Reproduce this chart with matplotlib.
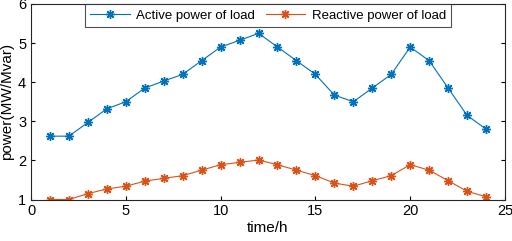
import matplotlib
matplotlib.use("Agg")
import matplotlib.pyplot as plt

plt.rcParams['font.family'] = ['Liberation Sans', 'DejaVu Sans']

hours = list(range(1, 25))
active = [2.62, 2.62, 2.97, 3.32, 3.50, 3.85, 4.03, 4.20, 4.55, 4.90, 5.07, 5.25,
          4.90, 4.55, 4.20, 3.67, 3.50, 3.85, 4.20, 4.90, 4.55, 3.85, 3.15, 2.80]
reactive = [1.00, 1.00, 1.15, 1.27, 1.34, 1.47, 1.54, 1.61, 1.75, 1.89, 1.95, 2.01,
            1.89, 1.75, 1.61, 1.42, 1.34, 1.48, 1.61, 1.89, 1.75, 1.48, 1.21, 1.07]

# matlab style asterisk marker (+ and x together)
star = (8, 2, 0)

fig = plt.figure(figsize=(5.12, 2.41), dpi=100)
ax = fig.add_axes([31/512, 1 - 199.5/241, 474/512, 195.5/241])

ax.plot(hours, active, color='#0072BD', marker=star, markersize=6.5, mew=1.0, lw=0.8,
        label='Active power of load')
ax.plot(hours, reactive, color='#D95319', marker=star, markersize=6.5, mew=1.0, lw=0.8,
        label='Reactive power of load')

ax.set_xlim(0, 25)
ax.set_ylim(1, 6)
ax.set_xticks([0, 5, 10, 15, 20, 25])
ax.set_yticks([1, 2, 3, 4, 5, 6])
ax.tick_params(direction='in', labelsize=10.5, length=3, top=False, right=True)
ax.set_xlabel('time/h', fontsize=11, labelpad=2)
ax.set_ylabel('power(MW/Mvar)', fontsize=11, labelpad=3)
for s in ax.spines.values():
    s.set_color('#262626')
    s.set_linewidth(0.8)

leg = ax.legend(loc='upper center', ncol=2, fontsize=9.5, frameon=True, fancybox=False,
                edgecolor='#262626', borderpad=0.4, handlelength=3.0, columnspacing=0.8,
                handletextpad=0.5, borderaxespad=0.0, bbox_to_anchor=(0.5, 1.0))
leg.get_frame().set_linewidth(0.8)

fig.savefig('out.png', dpi=100)
